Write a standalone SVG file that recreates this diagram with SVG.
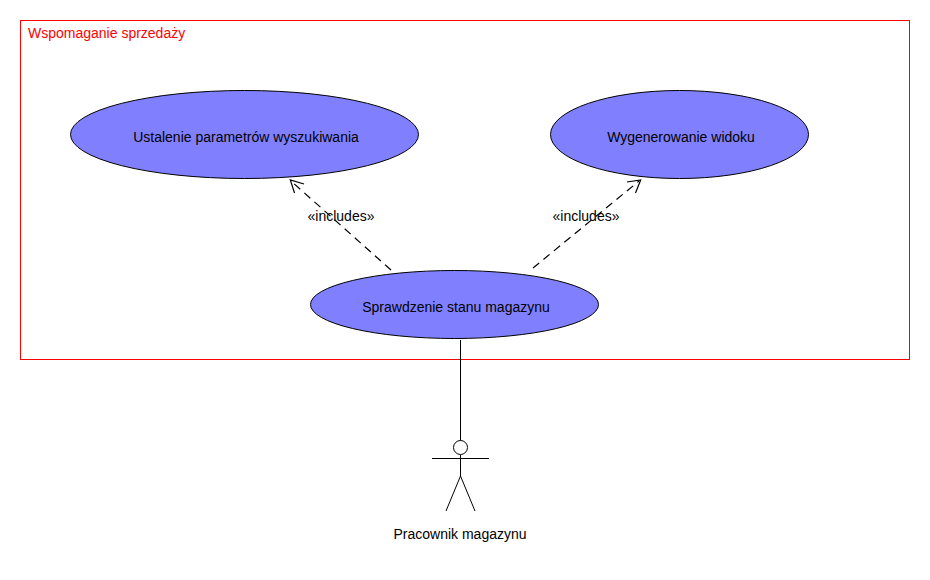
<svg xmlns="http://www.w3.org/2000/svg" width="930" height="580" viewBox="0 0 930 580">
<style>
text{font-family:"Liberation Sans",Arial,sans-serif;font-size:14px;fill:#000;text-anchor:middle}
.uc{fill:#8080ff;stroke:#000;stroke-width:1}
.ln{fill:none;stroke:#000;stroke-width:1}
.arrow{stroke-width:1.2}
.dash{stroke-width:1.2;stroke-dasharray:8 5.500}
</style>
<rect width="930" height="580" fill="#fff"/>
<g id="boundary">
<rect x="20.500" y="20.500" width="889" height="339" fill="none" stroke="#f00"/>
<text x="28" y="38" style="text-anchor:start;fill:#f00">Wspomaganie sprzedaży</text>
</g>
<g id="connectors">
<path class="ln dash" d="M391 270L291 181"/>
<path class="ln arrow" d="M304 184L290.300 180L294.500 193"/>
<path class="ln dash" d="M533 268L639 181"/>
<path class="ln arrow" d="M627 182L640.700 180L635.500 193"/>
<path class="ln" d="M460.500 340V441"/>
<text x="341" y="221">«includes»</text>
<text x="586" y="221">«includes»</text>
</g>
<g id="uc1">
<ellipse class="uc" cx="244.500" cy="134.500" rx="174" ry="44"/>
<text x="246" y="142">Ustalenie parametrów wyszukiwania</text>
</g>
<g id="uc2">
<ellipse class="uc" cx="679.500" cy="134.500" rx="129" ry="44"/>
<text x="681" y="142">Wygenerowanie widoku</text>
</g>
<g id="uc3">
<ellipse class="uc" cx="454.500" cy="304.500" rx="144" ry="34"/>
<text x="456" y="312">Sprawdzenie stanu magazynu</text>
</g>
<g id="actor">
<circle cx="460.500" cy="447.500" r="7" fill="#fff" stroke="#000"/>
<path class="ln" d="M460.500 455V476M432 458.500H489M460.500 476L446 511M460.500 476L475 511"/>
<text x="460" y="539">Pracownik magazynu</text>
</g>
</svg>
